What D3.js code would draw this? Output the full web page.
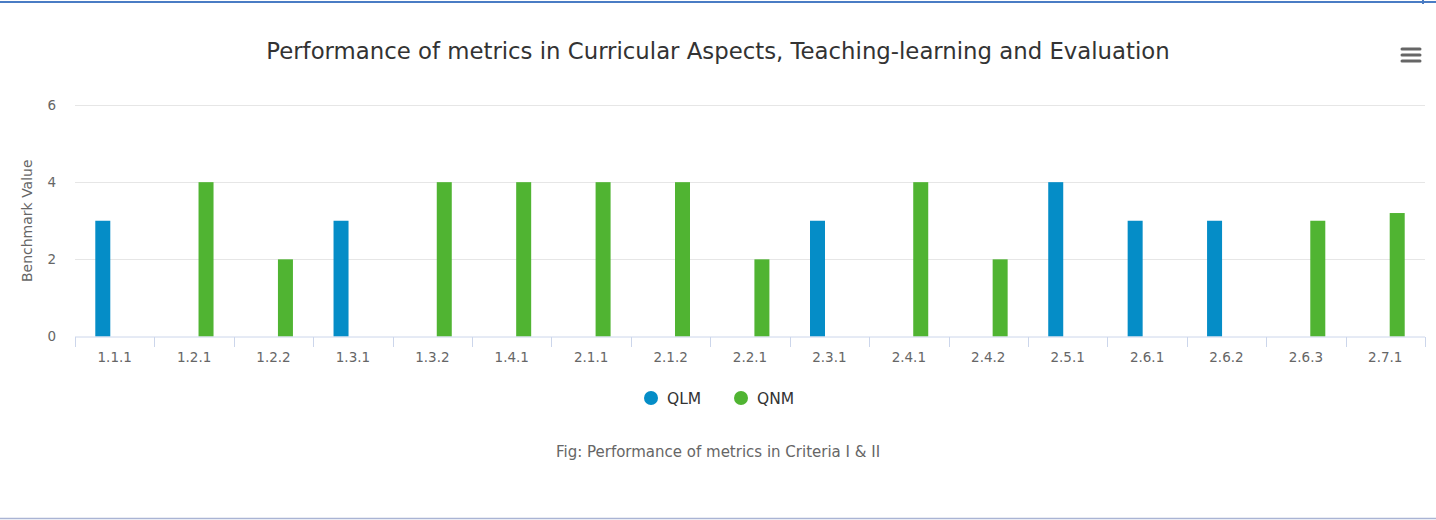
<!DOCTYPE html>
<html>
<head>
	<meta charset="utf-8">
	<title>metrics</title>
	<script type="text/javascript" src="https://cdn.jsdelivr.net/npm/d3@7/dist/d3.min.js"></script>
	<style type="text/css">
		body{margin:0;background:#fff;}
		svg text{font-family:"DejaVu Sans",Verdana,sans-serif;}
	</style>
</head>
<body>
	<script type="text/javascript">
		var categories=["1.1.1","1.2.1","1.2.2","1.3.1","1.3.2","1.4.1","2.1.1","2.1.2","2.2.1","2.3.1","2.4.1","2.4.2","2.5.1","2.6.1","2.6.2","2.6.3","2.7.1"];
		// null = no bar for that series
		var qlm=[3,null,null,3,null,null,null,null,null,3,null,null,4,3,3,null,null];
		var qnm=[null,4,2,null,4,4,4,4,2,null,4,2,null,null,null,3,3.2];
		var yTicks=[0,2,4,6];
		var seriesNames=["QLM","QNM"];
		var colors=["#058DC7","#50B432"];

		var width=1436,height=520;
		var pLeft=75,pRight=1425,pTop=105,pBottom=336.5;

		var svg=d3.select("body").append("svg")
			.attr("width",width)
			.attr("height",height);

		// page borders
		svg.append("line").attr("x1",0).attr("x2",width).attr("y1",2).attr("y2",2)
			.attr("stroke","#4a7cc4").attr("stroke-width",2);
		svg.append("line").attr("x1",1423).attr("x2",1423).attr("y1",0).attr("y2",4)
			.attr("stroke","#4a7cc4").attr("stroke-width",2);
		svg.append("line").attr("x1",0).attr("x2",width).attr("y1",518.5).attr("y2",518.5)
			.attr("stroke","#aab4d4").attr("stroke-width",1.5);

		var x=d3.scaleBand().domain(categories).range([pLeft,pRight]);
		var y=d3.scaleLinear().domain([0,6]).range([pBottom,pTop]);
		var slot=x.step()*0.6/2,barW=15;

		// grid
		svg.append("g").selectAll("line")
			.data(yTicks.slice(1))
			.enter().append("line")
			.attr("x1",pLeft).attr("x2",pRight)
			.attr("y1",function(d){return Math.round(y(d))+0.5;})
			.attr("y2",function(d){return Math.round(y(d))+0.5;})
			.attr("stroke","#e6e6e6");

		var yAxis=svg.append("g")
			.attr("transform","translate("+pLeft+",0)")
			.call(d3.axisLeft(y).tickValues(yTicks).tickFormat(d3.format("d")).tickSize(0).tickPadding(19));
		yAxis.select(".domain").remove();
		yAxis.selectAll("text").attr("fill","#666").attr("font-size",13.5);

		svg.append("text")
			.attr("transform","translate(32,"+((pTop+pBottom)/2)+") rotate(-90)")
			.attr("text-anchor","middle")
			.attr("fill","#666")
			.attr("font-size",14)
			.text("Benchmark Value");

		// bars
		[qlm,qnm].forEach(function(vals,s){
			svg.append("g").selectAll("rect")
				.data(categories.map(function(c,i){return {c:c,v:vals[i]};}).filter(function(d){return d.v!=null;}))
				.enter().append("rect")
				.attr("x",function(d){return x(d.c)+x.step()/2+(s==0?-slot/2:slot/2)-barW/2;})
				.attr("y",function(d){return y(d.v);})
				.attr("width",barW)
				.attr("height",function(d){return y(0)-y(d.v);})
				.attr("fill",colors[s]);
		});

		// x axis
		var xg=svg.append("g").attr("transform","translate(0,"+(pBottom+0.5)+")");
		xg.append("line").attr("x1",pLeft).attr("x2",pRight).attr("stroke","#ccd6eb");
		xg.selectAll(".tk")
			.data(categories.concat(["end"]))
			.enter().append("line")
			.attr("class","tk")
			.attr("x1",function(d,i){return Math.round(pLeft+i*x.step())+0.5;})
			.attr("x2",function(d,i){return Math.round(pLeft+i*x.step())+0.5;})
			.attr("y1",0).attr("y2",10)
			.attr("stroke","#ccd6eb");
		xg.selectAll("text")
			.data(categories)
			.enter().append("text")
			.attr("x",function(d){return x(d)+x.step()/2;})
			.attr("y",25)
			.attr("text-anchor","middle")
			.attr("fill","#666")
			.attr("font-size",13.5)
			.text(function(d){return d;});

		// title
		svg.append("text")
			.attr("x",718).attr("y",59)
			.attr("text-anchor","middle")
			.attr("fill","#333")
			.attr("font-size",22.8)
			.text("Performance of metrics in Curricular Aspects, Teaching-learning and Evaluation");

		// menu icon
		svg.append("g").selectAll("line")
			.data([0,1,2])
			.enter().append("line")
			.attr("x1",1402).attr("x2",1420)
			.attr("y1",function(d){return 49+d*6;})
			.attr("y2",function(d){return 49+d*6;})
			.attr("stroke","#666").attr("stroke-width",3).attr("stroke-linecap","round");

		// legend
		var lg=svg.append("g").selectAll("g")
			.data(seriesNames)
			.enter().append("g")
			.attr("transform",function(d,i){return "translate("+(651+i*90)+",398)";});
		lg.append("circle").attr("r",7).attr("fill",function(d,i){return colors[i];});
		lg.append("text").attr("x",16).attr("y",5.5)
			.attr("fill","#333").attr("font-size",15.5)
			.text(function(d){return d;});

		// caption
		svg.append("text")
			.attr("x",718).attr("y",457)
			.attr("text-anchor","middle")
			.attr("fill","#666")
			.attr("font-size",15)
			.text("Fig: Performance of metrics in Criteria I & II");
	</script>
</body>
</html>
